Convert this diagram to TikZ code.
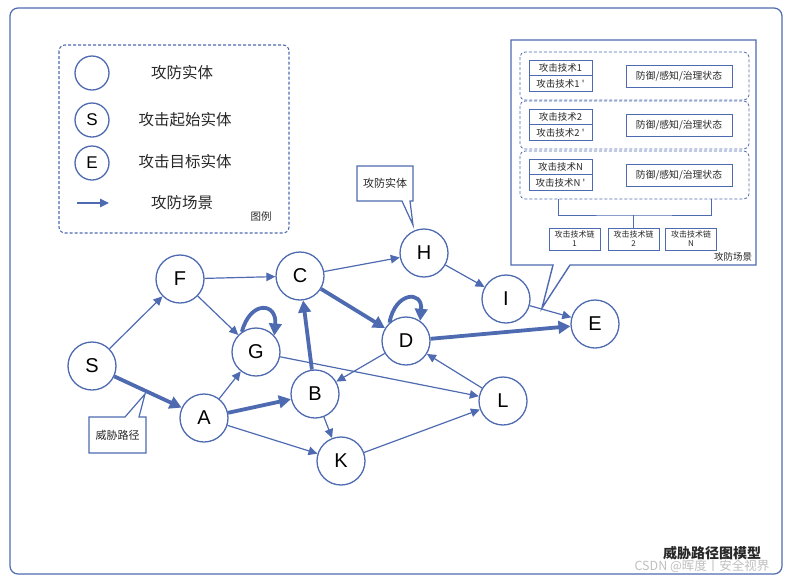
\documentclass[tikz,border=0pt]{standalone}
\usepackage{fontspec}
\setmainfont{Liberation Sans}
\newfontfamily\cjk{Noto Sans CJK SC}
\usetikzlibrary{
  calc,
  positioning,
  arrows.meta}
\definecolor{pathblue}{RGB}{78,106,176}
\definecolor{inktext}{RGB}{40,40,40}

\tikzset{
  entity/.style={circle,draw=pathblue,line width=1.3pt,fill=white,
    minimum size=48pt,inner sep=0pt,font=\fontsize{20}{22}\selectfont},
  legendent/.style={circle,draw=pathblue,line width=1.3pt,fill=white,
    minimum size=34pt,inner sep=0pt,font=\fontsize{17}{19}\selectfont},
  legendtxt/.style={font=\cjk\fontsize{15.5}{17}\selectfont,text=inktext},
  flow/.style={draw=pathblue,line width=1.2pt,
    -{Triangle[length=9pt,width=8.5pt]}},
  threat/.style={draw=pathblue,line width=3.8pt,
    -{Triangle[length=12pt,width=12.5pt]}},
  techbox/.style={rectangle,draw=pathblue,line width=0.8pt,fill=white,
    minimum width=63pt,minimum height=15.5pt,inner sep=0pt,text=inktext,
    font=\cjk\fontsize{9.5}{11}\selectfont},
  statebox/.style={rectangle,draw=pathblue,line width=0.8pt,fill=white,
    minimum width=106pt,minimum height=22pt,inner sep=0pt,text=inktext,
    font=\cjk\fontsize{9.8}{11}\selectfont},
  chainbox/.style={rectangle,draw=pathblue,line width=0.8pt,fill=white,
    minimum width=51pt,minimum height=22pt,inner sep=0pt,align=center,
    text=inktext,font=\cjk\fontsize{8}{9}\selectfont},
  rowframe/.style={draw=pathblue,line width=0.8pt,dashed,
    dash pattern=on 3pt off 2pt,rounded corners=5pt},
  callout/.style={draw=pathblue,line width=1.2pt,fill=white}
}

\begin{document}
\begin{tikzpicture}[x=1pt,y=1pt]
  \useasboundingbox (0,0) rectangle (789,-579);

  % Outer frame
  \draw[pathblue,line width=1.2pt,rounded corners=8pt]
    (10,-8) rectangle (782,-574);

  % Legend
  \draw[pathblue,line width=1.1pt,dashed,dash pattern=on 3pt off 2pt,
    rounded corners=6pt] (59,-45) rectangle (289,-233);
  \node[legendent] (lgplain) at (92,-73) {};
  \node[legendent] (lgstart) at (92,-120) {S};
  \node[legendent] (lgend)   at (92,-163) {E};
  \coordinate (lgarrow0) at (77,-203);
  \coordinate (lgarrow1) at (109,-203);
  \draw[flow] (lgarrow0) -- (lgarrow1);
  \node[legendtxt] (lgplaintxt) at (182,-73)  {攻防实体};
  \node[legendtxt] (lgstarttxt) at (185,-120) {攻击起始实体};
  \node[legendtxt] (lgendtxt)   at (185,-162) {攻击目标实体};
  \node[legendtxt] (lgarrowtxt) at (182,-203) {攻防场景};
  \node[font=\cjk\fontsize{10.5}{12}\selectfont,text=inktext]
    (lgtitle) at (261,-217) {图例};

  % Entities
  \node[entity] (S) at (92,-366)  {S};
  \node[entity] (F) at (180,-279) {F};
  \node[entity] (C) at (300,-276) {C};
  \node[entity] (H) at (424,-253) {H};
  \node[entity] (I) at (506,-299) {I};
  \node[entity] (E) at (595,-324) {E};
  \node[entity] (D) at (406,-341) {D};
  \node[entity] (G) at (256,-352) {G};
  \node[entity] (B) at (315,-394) {B};
  \node[entity] (A) at (204,-418) {A};
  \node[entity] (K) at (341,-461) {K};
  \node[entity] (L) at (503,-401) {L};

  % Scenario edges
  \draw[flow] (S) -- (F);
  \draw[flow] (F) -- (C);
  \draw[flow] (F) -- (G);
  \draw[flow] (A) -- (G);
  \draw[flow] (A) -- (K);
  \draw[flow] (G) -- (L);
  \draw[flow] (B) -- (K);
  \draw[flow] (C) -- (H);
  \draw[flow] (D) -- (B);
  \draw[flow] (H) -- (I);
  \draw[flow] (I) -- (E);
  \draw[flow] (K) -- (L);
  \draw[flow] (L) -- (D);

  % Threat path
  \draw[threat] (S) -- (A);
  \draw[threat] (A) -- (B);
  \draw[threat] (B) -- (C);
  \draw[threat] (C) -- (D);
  \draw[threat] (D) -- (E);
  \draw[threat] (G.125) to[out=75,in=85,looseness=2.6] (G.42);
  \draw[threat] (D.132) to[out=80,in=85,looseness=2.6] (D.55);

  % Callout: threat path
  \draw[callout] (89,-417) -- (125,-417) -- (145,-394) -- (139,-417)
    -- (146,-417) -- (146,-453) -- (89,-453) -- cycle;
  \node[font=\cjk\fontsize{11}{12}\selectfont,text=inktext]
    (pathlabel) at (117.5,-435) {威胁路径};

  % Callout: entity
  \draw[callout] (357,-166) -- (413,-166) -- (413,-201) -- (410,-201)
    -- (413,-225) -- (402,-201) -- (357,-201) -- cycle;
  \node[font=\cjk\fontsize{11}{12}\selectfont,text=inktext]
    (entlabel) at (385,-183.5) {攻防实体};

  % Callout: attack-defence scenario
  \draw[callout,line width=1.4pt] (511,-40) -- (756,-40) -- (756,-265)
    -- (570,-265) -- (542,-308) -- (553,-265) -- (511,-265) -- cycle;
  \foreach \r/\n/\y in {1/1/-76, 2/2/-125, 3/N/-175} {
    \draw[rowframe] (520,\y+24) rectangle (749,\y-24);
    \node[techbox] (tech\r a) at (560.5,\y+8)    {攻击技术\n};
    \node[techbox] (tech\r b) at (560.5,\y-7.5)  {攻击技术\n\ '};
    \node[statebox] (state\r) at (679,\y) {防御/感知/治理状态};
  }
  \node[chainbox] (chain1) at (574.5,-239) {攻击技术链\\1};
  \node[chainbox] (chain2) at (633.5,-239) {攻击技术链\\2};
  \node[chainbox] (chainN) at (691,-239)   {攻击技术链\\N};
  \coordinate (brL) at (558,-199);
  \coordinate (brR) at (711,-199);
  \draw[pathblue,line width=0.8pt]
    (brL) |- (633.5,-215) -| (brR)
    (633.5,-215) -- (chain2.north);
  \node[font=\cjk\fontsize{9.5}{11}\selectfont,text=inktext]
    (scenetitle) at (733,-257) {攻防场景};

  % Title
  \node[font=\cjk\bfseries\fontsize{14}{16}\selectfont,text=inktext]
    (title) at (712,-553) {威胁路径图模型};
  \node[font=\cjk\fontsize{12.5}{14}\selectfont,text=black!25]
    (mark) at (702,-566) {CSDN @晖度丨安全视界};

\end{tikzpicture}
\end{document}
